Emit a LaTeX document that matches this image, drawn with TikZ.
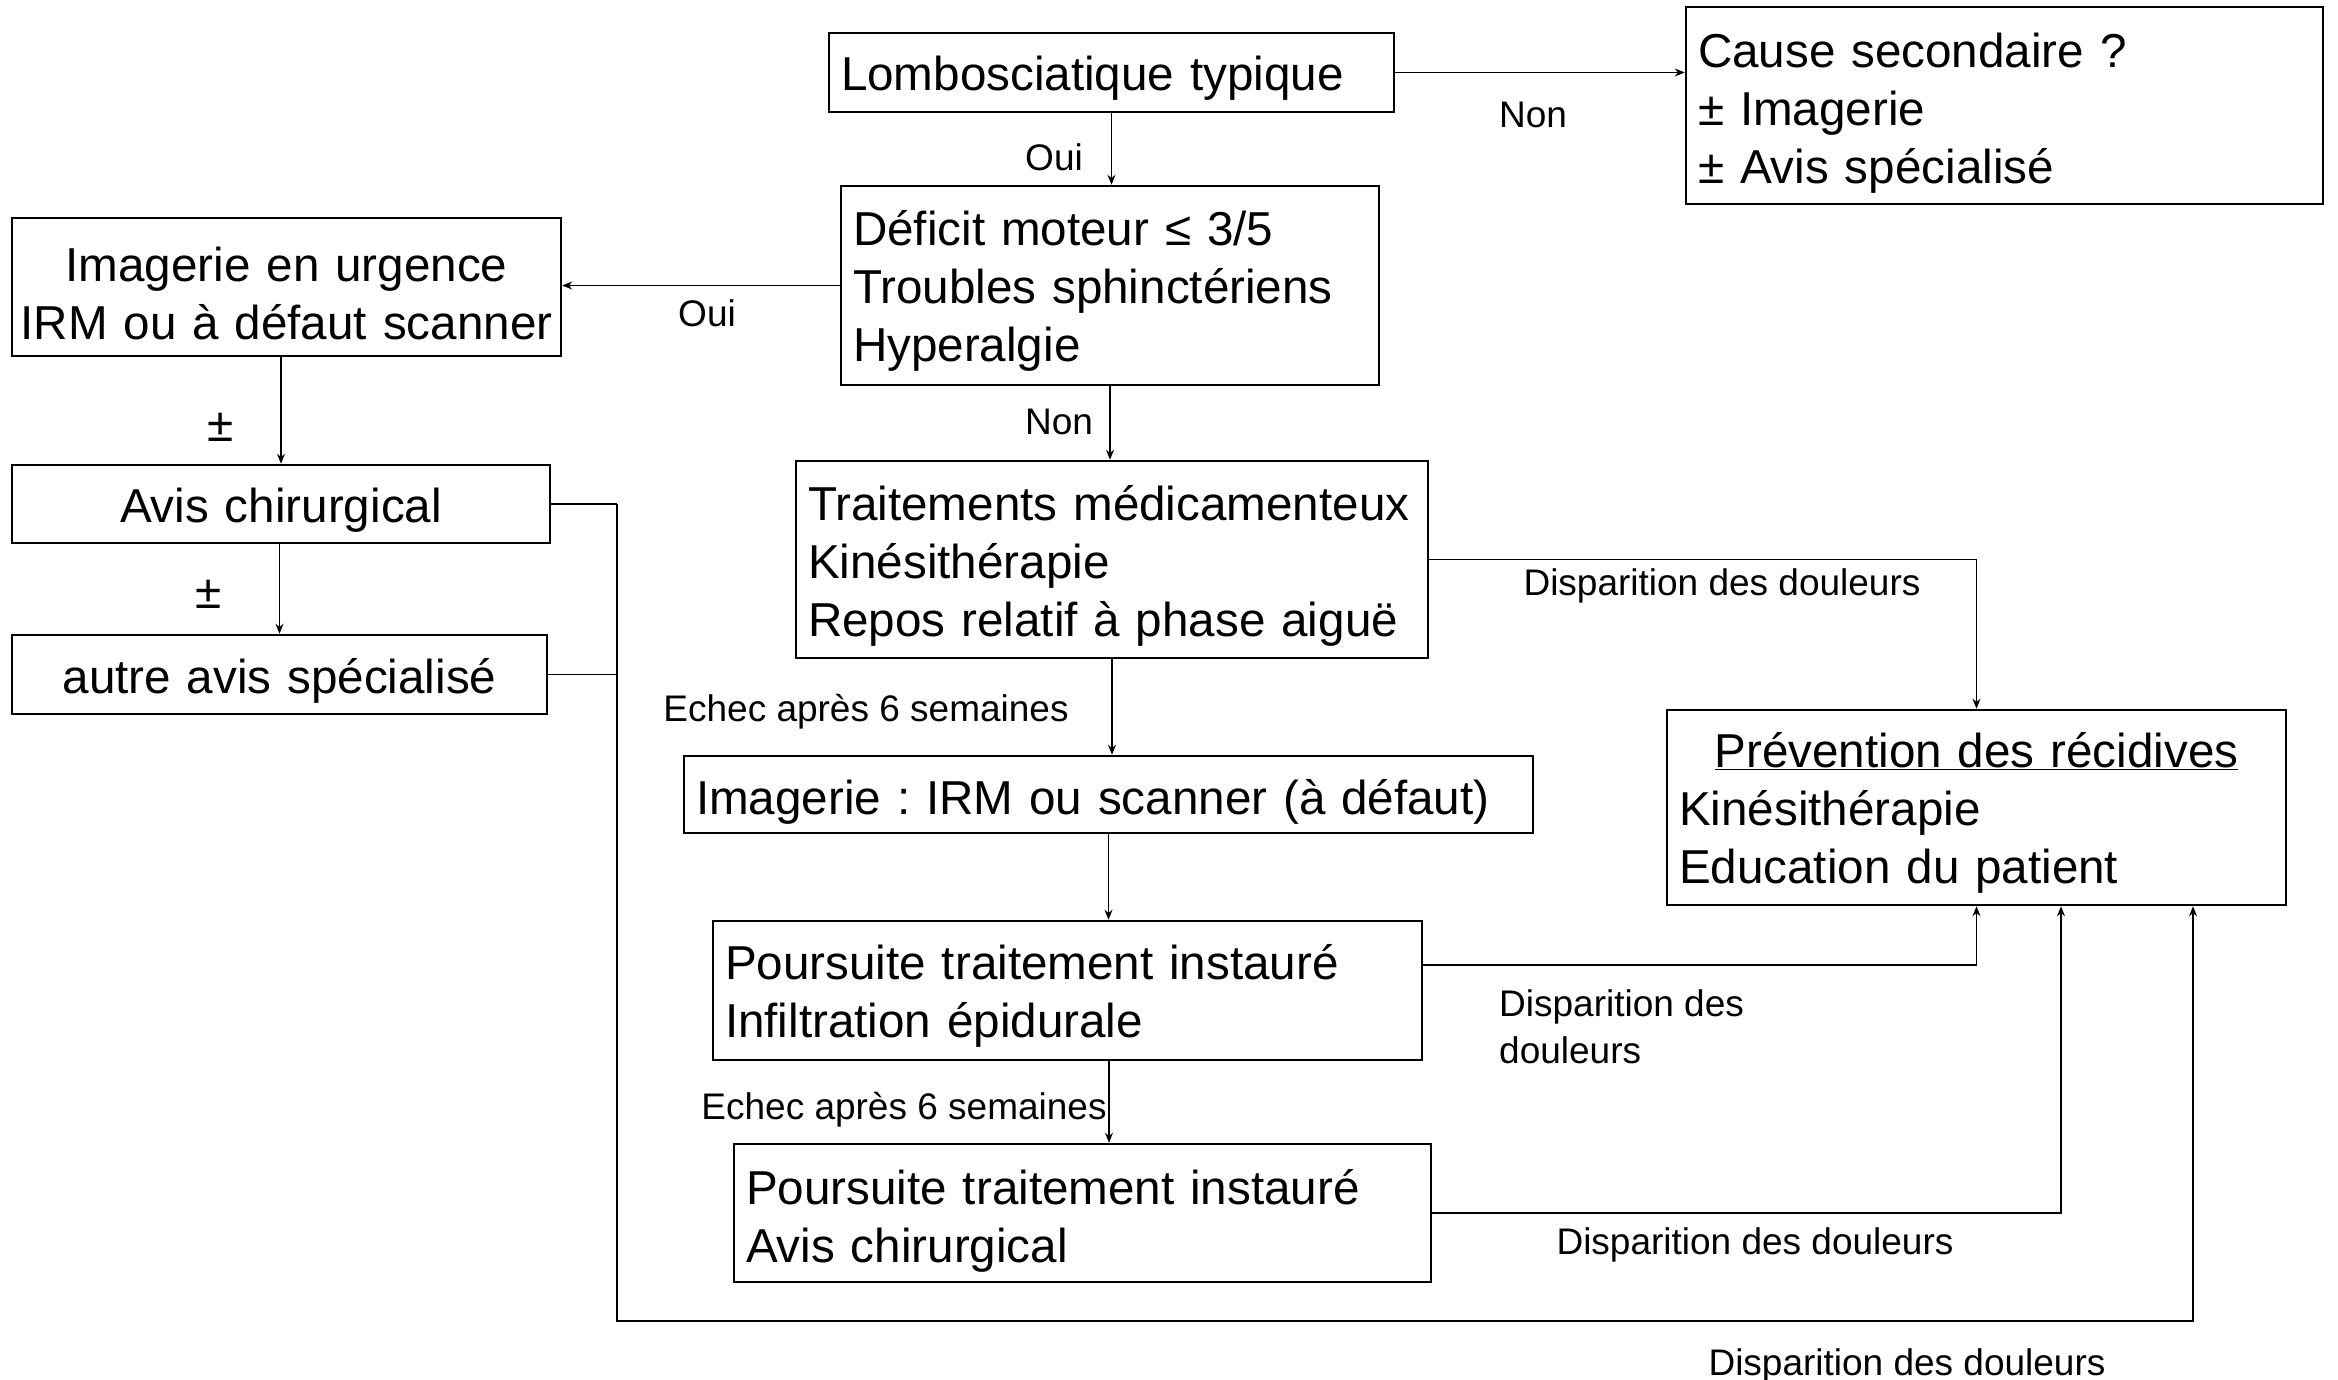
\documentclass[tikz,border=0pt]{standalone}
\usepackage{fontspec}
\setmainfont{Liberation Sans}
\usetikzlibrary{arrows.meta,calc}
\frenchspacing
\hyphenpenalty=10000
\begin{document}
\begin{tikzpicture}[x=1pt,y=-1pt,
  bx/.style={draw, line width=2.5pt, inner sep=0pt, anchor=center},
  tx/.style={inner sep=0pt, align=left, anchor=center,
    font=\fontsize{47.6pt}{58pt}\selectfont},
  ctx/.style={tx, align=center},
  lbl/.style={inner sep=0pt, font=\fontsize{37pt}{47pt}\selectfont},
  pm/.style={inner sep=0pt, font=\fontsize{47.6pt}{58pt}\selectfont},
  conn/.style={line width=1.3pt},
  arr/.style={conn, -{Stealth[length=10pt,width=8pt]}}]
\fill[white] (0,0) rectangle (2338,1380);
\useasboundingbox (0,0) rectangle (2338,1380);

% boxes
\node[bx, minimum width=565pt, minimum height=79pt] (A) at (1111.5,72.5) {};
\node[bx, minimum width=637pt, minimum height=197pt] (B) at (2004.5,105.5) {};
\node[bx, minimum width=538pt, minimum height=199pt] (C) at (1110,285.5) {};
\node[bx, minimum width=549pt, minimum height=138pt] (D) at (286.5,287) {};
\node[bx, minimum width=538pt, minimum height=78pt] (E) at (281,504) {};
\node[bx, minimum width=535pt, minimum height=79pt] (F) at (279.5,674.5) {};
\node[bx, minimum width=632pt, minimum height=197pt] (G) at (1112,559.5) {};
\node[bx, minimum width=849pt, minimum height=77pt] (H) at (1108.5,794.5) {};
\node[bx, minimum width=619pt, minimum height=195pt] (P) at (1976.5,807.5) {};
\node[bx, minimum width=709pt, minimum height=139pt] (I) at (1067.5,990.5) {};
\node[bx, minimum width=697pt, minimum height=138pt] (J) at (1082.5,1213) {};

% box texts
\node[tx, text width=541pt] (At) at ($(A.center)+(0,6)$) {Lombosciatique typique};
\node[tx, text width=613pt] (Bt) at ($(B.center)+(0,7.5)$) {Cause secondaire ?\\± Imagerie\\± Avis spécialisé};
\node[tx, text width=514pt] (Ct) at ($(C.center)+(0,5)$) {Déficit moteur ≤ 3/5\\Troubles sphinctériens\\Hyperalgie};
\node[ctx, text width=549pt] (Dt) at ($(D.center)+(0,6)$) {Imagerie en urgence\\IRM ou à défaut scanner};
\node[ctx, text width=538pt] (Et) at ($(E.center)+(0,6)$) {Avis chirurgical};
\node[ctx, text width=535pt] (Ft) at ($(F.center)+(0,6)$) {autre avis spécialisé};
\node[tx, text width=608pt] (Gt) at ($(G.center)+(0,6)$) {Traitements médicamenteux\\Kinésithérapie\\Repos relatif à phase aiguë};
\node[tx, text width=825pt] (Ht) at ($(H.center)+(0,7)$) {Imagerie : IRM ou scanner (à défaut)};
\node[tx, text width=595pt] (Pt) at ($(P.center)+(0,5)$) {\makebox[\linewidth][c]{\underline{Prévention des récidives}}\\Kinésithérapie\\Education du patient};
\node[tx, text width=685pt] (It) at ($(I.center)+(0,5)$) {Poursuite traitement instauré\\Infiltration épidurale};
\node[tx, text width=673pt] (Jt) at ($(J.center)+(0,8)$) {Poursuite traitement instauré\\Avis chirurgical};

% connectors
\draw[arr] (A.south) -- (A.south |- C.north);
\draw[arr] (A.east) -- (A.east -| B.west);
\draw[arr] (C.west) -- (C.west -| D.east);
\draw[arr] (E.north |- D.south) -- (E.north);
\draw[arr] (F.north |- E.south) -- (F.north);
\draw[arr] (C.south) -- (C.south |- G.north);
\draw[arr] (G.south) -- (G.south |- H.north);
\draw[arr] (H.south) -- (H.south |- I.north);
\coordinate (sp) at (1109,0);
\draw[arr] (sp |- I.south) -- (sp |- J.north);
\draw[arr] (G.east) -| (P.north);
\coordinate (i1) at ($(I.north east)!0.32!(I.south east)$);
\draw[arr] (i1) -| (P.south);
\coordinate (p3) at ($(P.south)+(84.5,0)$);
\draw[arr] (J.east) -| (p3);
\coordinate (lx) at (617,0);
\coordinate (p4) at ($(P.south)+(216.5,0)$);
\coordinate (bot) at (0,1321);
\draw[conn] (E.east) -- (E.east -| lx);
\draw[conn] (F.east) -- (F.east -| lx);
\draw[arr] (E.east -| lx) -- (lx |- bot) -- (p4 |- bot) -- (p4);

% labels
\node[lbl] (l1) at (1533,115) {Non};
\node[lbl] (l2) at (1054,157) {Oui};
\node[lbl] (l3) at (707,313) {Oui};
\node[pm] (l4) at (221,427) {±};
\node[pm] (l5) at (209,594) {±};
\node[lbl] (l6) at (1059,422) {Non};
\node[lbl] (l7) at (1722,585.5) {Disparition des douleurs};
\node[lbl] (l8) at (866,711.5) {Echec après 6 semaines};
\node[lbl, align=left, anchor=west] (l9) at (1499,1027) {Disparition des\\douleurs};
\node[lbl] (l10) at (904,1109.5) {Echec après 6 semaines};
\node[lbl] (l11) at (1755,1244.5) {Disparition des douleurs};
\node[lbl] (l12) at (1907,1365.5) {Disparition des douleurs};
\end{tikzpicture}
\end{document}
